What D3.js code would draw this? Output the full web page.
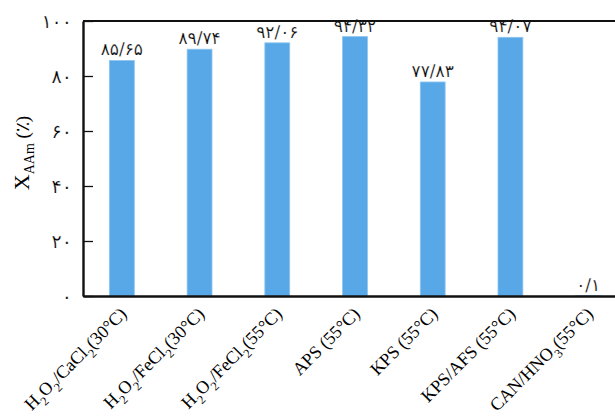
<!DOCTYPE html>
<html><head><meta charset="utf-8">
<script src="https://cdn.jsdelivr.net/npm/d3@7"></script>
<style>
body{margin:0;background:#fff;}
svg{display:block;}
</style></head>
<body>
<svg id="c" width="615" height="416"></svg>
<script>
const categories = ["H_2O_2/CaCl_2(30°C)","H_2O_2/FeCl_2(30°C)","H_2O_2/FeCl_2(55°C)","APS (55°C)","KPS (55°C)","KPS/AFS (55°C)","CAN/HNO_3(55°C)"];
const values = [85.65, 89.74, 92.06, 94.32, 77.83, 94.07, 0.1];
const valueLabels = ["۸۵/۶۵","۸۹/۷۴","۹۲/۰۶","۹۴/۳۲","۷۷/۸۳","۹۴/۰۷","۰/۱"];
const yTicks = [0, 20, 40, 60, 80, 100];
const yTickLabels = ["۰","۲۰","۴۰","۶۰","۸۰","۱۰۰"];

const svg = d3.select("#c");
const m = {left: 83, top: 21, bottom: 296};
const plotRight = 627;

const x = d3.scaleBand().domain(categories).range([m.left, plotRight]).paddingInner(0.68).paddingOuter(0.34);
const y = d3.scaleLinear().domain([0, 100]).range([m.bottom, m.top]);

// bars
svg.append("g").selectAll("rect").data(values).join("rect")
  .attr("x", (d,i) => x(categories[i]))
  .attr("width", x.bandwidth())
  .attr("y", d => y(d))
  .attr("height", d => y(0) - y(d))
  .attr("fill", "#58A8E8")
  .attr("stroke", "#8CC5F0")
  .attr("stroke-width", 0.8);

// value labels
svg.append("g").selectAll("text").data(valueLabels).join("text")
  .attr("x", (d,i) => x(categories[i]) + x.bandwidth()/2)
  .attr("y", (d,i) => y(values[i]) - 5)
  .attr("text-anchor", "middle")
  .attr("direction", "ltr")
  .attr("font-family", "'DejaVu Sans', sans-serif")
  .attr("font-size", 17)
  .attr("fill", "#000")
  .attr("stroke", "#fff")
  .attr("stroke-width", 0.25)
  .text(d => d);

// top border
svg.append("line").attr("x1", m.left).attr("x2", plotRight).attr("y1", y(100)).attr("y2", y(100))
  .attr("stroke", "#111").attr("stroke-width", 2.2);

// left axis
const yAxis = d3.axisLeft(y).tickValues(yTicks).tickSizeInner(-10).tickSizeOuter(0).tickPadding(11)
  .tickFormat((d,i) => yTickLabels[i]);
const gy = svg.append("g").attr("transform", `translate(${m.left},0)`).call(yAxis);
gy.select(".domain").attr("stroke", "#111").attr("stroke-width", 2.4);
gy.selectAll(".tick line").attr("stroke", "#111").attr("stroke-width", 1.3);
gy.selectAll(".tick text").attr("font-family", "'DejaVu Sans', sans-serif").attr("font-size", 19)
  .attr("fill", "#000").attr("stroke", "#fff").attr("stroke-width", 0.25).attr("direction","ltr");

// bottom axis
const xAxis = d3.axisBottom(x).tickSize(0).tickFormat("");
const gx = svg.append("g").attr("transform", `translate(0,${m.bottom})`).call(xAxis);
gx.select(".domain").attr("stroke", "#111").attr("stroke-width", 2.6);

function addRich(textSel, s, base, sub) {
  const parts = [];
  let i = 0;
  while (i < s.length) {
    if (s[i] === "_") { parts.push({t: s[i+1], sub: true}); i += 2; }
    else {
      let j = i; while (j < s.length && s[j] !== "_") j++;
      parts.push({t: s.slice(i, j), sub: false}); i = j;
    }
  }
  let shifted = false;
  parts.forEach(p => {
    const ts = textSel.append("tspan").text(p.t);
    if (p.sub && !shifted) { ts.attr("dy", 6).attr("font-size", sub); shifted = true; }
    else if (!p.sub && shifted) { ts.attr("dy", -6).attr("font-size", base); shifted = false; }
    else if (p.sub) ts.attr("font-size", sub);
  });
}

categories.forEach(c => {
  const cx = x(c) + x.bandwidth()/2 + 6;
  const t = svg.append("text")
    .attr("transform", `translate(${cx},${m.bottom + 19}) rotate(-45)`)
    .attr("text-anchor", "end")
    .attr("font-family", "'Liberation Serif', serif")
    .attr("font-size", 18)
    .attr("fill", "#000");
  addRich(t, c, 18, 12.5);
});

// y title
const yt = svg.append("text")
  .attr("transform", `translate(29,153) rotate(-90)`)
  .attr("text-anchor", "middle")
  .attr("font-family", "'Liberation Serif', serif")
  .attr("font-size", 22)
  .attr("fill", "#000");
yt.append("tspan").text("X");
yt.append("tspan").attr("dy", 5).attr("font-size", 14).text("AAm");
yt.append("tspan").attr("dy", -5).attr("font-size", 19).text(" (٪)");
</script>
</body></html>
